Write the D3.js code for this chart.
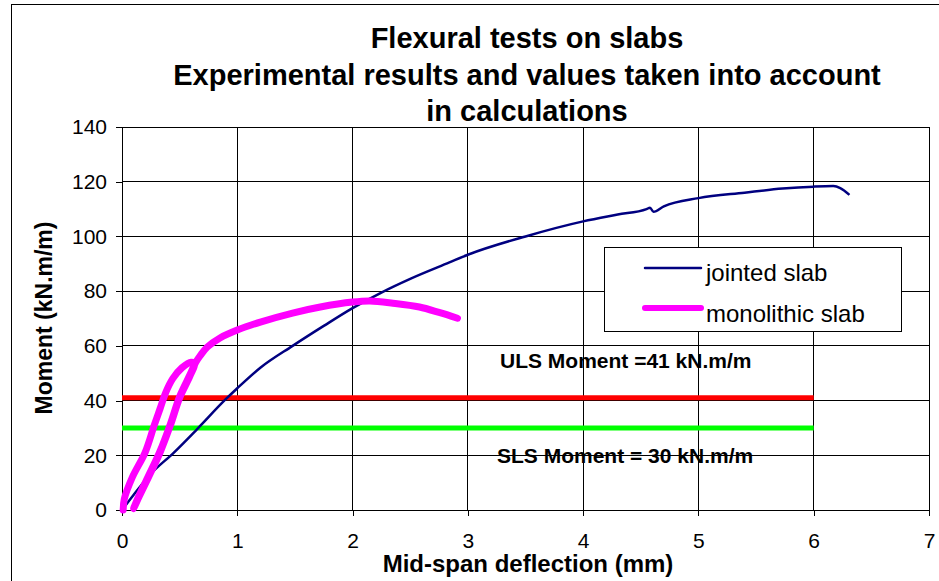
<!DOCTYPE html>
<html>
<head>
<meta charset="utf-8">
<script src="https://cdn.jsdelivr.net/npm/d3@7"></script>
<style>
  body { margin: 0; background: #fff; }
  text { font-family: "Liberation Sans", Arial, sans-serif; fill: #000; }
</style>
</head>
<body>
<div id="chart"></div>
<script>
// Chart data
const titleLines = ["Flexural tests on slabs", "Experimental results and values taken into account", "in calculations"];
const xTicks = [0, 1, 2, 3, 4, 5, 6, 7];
const yTicks = [0, 20, 40, 60, 80, 100, 120, 140];

// jointed slab: [deflection mm, moment kN.m/m]
const jointed = [
  [0, 0], [0.1, 5.5], [0.24, 12.8], [0.45, 21], [0.65, 29.5], [0.9, 40.5], [1.0, 44.5],
  [1.2, 52], [1.48, 60], [1.75, 67.3], [2.0, 73.8], [2.25, 79.5], [2.5, 84.5],
  [2.84, 90.5], [3.0, 93.3], [3.5, 100], [4.0, 105.5], [4.3, 108], [4.55, 110],
  [4.58, 110.5], [4.61, 109], [4.7, 111], [5.0, 114], [5.4, 116], [5.73, 117.5],
  [6.0, 118.2], [6.17, 118.4], [6.23, 117.7], [6.31, 115.2]
];

// monolithic slab: load, unload, reload, then on to failure
const monolithic = [
  [0.01, 0], [0.02, 4], [0.09, 12], [0.2, 21], [0.28, 31], [0.33, 37], [0.38, 43],
  [0.44, 48], [0.52, 52], [0.6, 54], [0.63, 53.5],
  [0.59, 49], [0.5, 41], [0.42, 31], [0.33, 21], [0.23, 12], [0.15, 5], [0.1, 0.5],
  [0.15, 5.5], [0.23, 12.5], [0.33, 21.5], [0.42, 31.5], [0.5, 41.5], [0.59, 49.5],
  [0.64, 54], [0.68, 56.5], [0.74, 59.6], [0.85, 62.9], [1.0, 65.8], [1.2, 68.7],
  [1.48, 72], [1.72, 74.2], [2.0, 76], [2.15, 76.4], [2.35, 75.6], [2.58, 74.2],
  [2.75, 72.2], [2.91, 70.1]
];

const uls = [[0, 41], [6, 41]];
const sls = [[0, 30], [6, 30]];

const width = 939, height = 581;
const margin = { top: 127, right: 10, bottom: 71, left: 122 };

const svg = d3.select("#chart").append("svg")
  .attr("width", width)
  .attr("height", height);

svg.append("rect").attr("width", width).attr("height", height).attr("fill", "#fff");

// outer chart frame (runs off the right and bottom edges)
svg.append("rect")
  .attr("x", 11.5).attr("y", 4.5)
  .attr("width", 1000).attr("height", 1000)
  .attr("fill", "none").attr("stroke", "#000");

const x = d3.scaleLinear().domain([0, 7]).range([margin.left, width - margin.right]);
const y = d3.scaleLinear().domain([0, 140]).range([height - margin.bottom, margin.top]);

// title
svg.append("g")
  .selectAll("text")
  .data(titleLines)
  .join("text")
  .attr("x", 527)
  .attr("y", (d, i) => [48, 85, 121][i])
  .attr("text-anchor", "middle")
  .style("font-size", "29px")
  .style("font-weight", "bold")
  .text(d => d);

// reference value labels (under the grid)
svg.append("text")
  .attr("x", 500).attr("y", 368)
  .style("font-size", "21px").style("font-weight", "bold")
  .text("ULS Moment =41 kN.m/m");

svg.append("text")
  .attr("x", 497).attr("y", 463)
  .style("font-size", "21px").style("font-weight", "bold")
  .text("SLS Moment = 30 kN.m/m");

// grid
const grid = svg.append("g").attr("stroke", "#000").attr("shape-rendering", "crispEdges");
grid.selectAll(".vg").data(xTicks).join("line")
  .attr("x1", d => x(d)).attr("x2", d => x(d))
  .attr("y1", y(0)).attr("y2", y(140));
grid.selectAll(".hg").data(yTicks).join("line")
  .attr("x1", x(0)).attr("x2", x(7))
  .attr("y1", d => y(d)).attr("y2", d => y(d));

// axes
const xAxis = svg.append("g")
  .attr("transform", `translate(0,${y(0)})`)
  .call(d3.axisBottom(x).tickValues(xTicks).tickSize(6).tickPadding(17).tickFormat(d3.format("d")));
const yAxis = svg.append("g")
  .attr("transform", `translate(${x(0)},0)`)
  .call(d3.axisLeft(y).tickValues(yTicks).tickSize(6).tickPadding(9).tickFormat(d3.format("d")));
[xAxis, yAxis].forEach(a => {
  a.select(".domain").remove();
  a.selectAll("line").attr("stroke", "#000").attr("shape-rendering", "crispEdges");
  a.selectAll("text").style("font-size", "21px").style("font-family", "'Liberation Sans', Arial, sans-serif");
});

// axis titles
svg.append("text")
  .attr("x", 528).attr("y", 572)
  .attr("text-anchor", "middle")
  .style("font-size", "24px").style("font-weight", "bold")
  .text("Mid-span deflection (mm)");

svg.append("text")
  .attr("transform", `translate(52,${318}) rotate(-90)`)
  .attr("text-anchor", "middle")
  .style("font-size", "23px").style("font-weight", "bold")
  .text("Moment (kN.m/m)");

// series
const line = d3.line().x(d => x(d[0])).y(d => y(d[1]));
const smoothX = d3.line().x(d => x(d[0])).y(d => y(d[1])).curve(d3.curveMonotoneX);
const smooth = d3.line().x(d => x(d[0])).y(d => y(d[1])).curve(d3.curveCatmullRom.alpha(0.5));

svg.append("path").datum(uls)
  .attr("d", line).attr("fill", "none")
  .attr("stroke", "#ff0000").attr("stroke-width", 5);

svg.append("path").datum(sls)
  .attr("d", line).attr("fill", "none")
  .attr("stroke", "#00ff00").attr("stroke-width", 5);

svg.append("path").datum(jointed)
  .attr("d", smoothX).attr("fill", "none")
  .attr("stroke", "#000080").attr("stroke-width", 2.5)
  .attr("stroke-linejoin", "round");

svg.append("path").datum(monolithic)
  .attr("d", smooth).attr("fill", "none")
  .attr("stroke", "#ff00ff").attr("stroke-width", 7)
  .attr("stroke-linejoin", "round").attr("stroke-linecap", "round");

// legend
const legend = svg.append("g");
legend.append("rect")
  .attr("x", 604.5).attr("y", 247.5)
  .attr("width", 297).attr("height", 84)
  .attr("fill", "#fff").attr("stroke", "#000");

const legendItems = [
  { name: "jointed slab", color: "#000080", w: 2.5, ly: 268, ty: 281 },
  { name: "monolithic slab", color: "#ff00ff", w: 6, ly: 308, ty: 322 }
];
legend.selectAll("line").data(legendItems).join("line")
  .attr("x1", 645).attr("x2", 701)
  .attr("y1", d => d.ly).attr("y2", d => d.ly)
  .attr("stroke", d => d.color).attr("stroke-width", d => d.w)
  .attr("stroke-linecap", "round");
legend.selectAll("text").data(legendItems).join("text")
  .attr("x", 706).attr("y", d => d.ty)
  .style("font-size", "24px")
  .text(d => d.name);
</script>
</body>
</html>
